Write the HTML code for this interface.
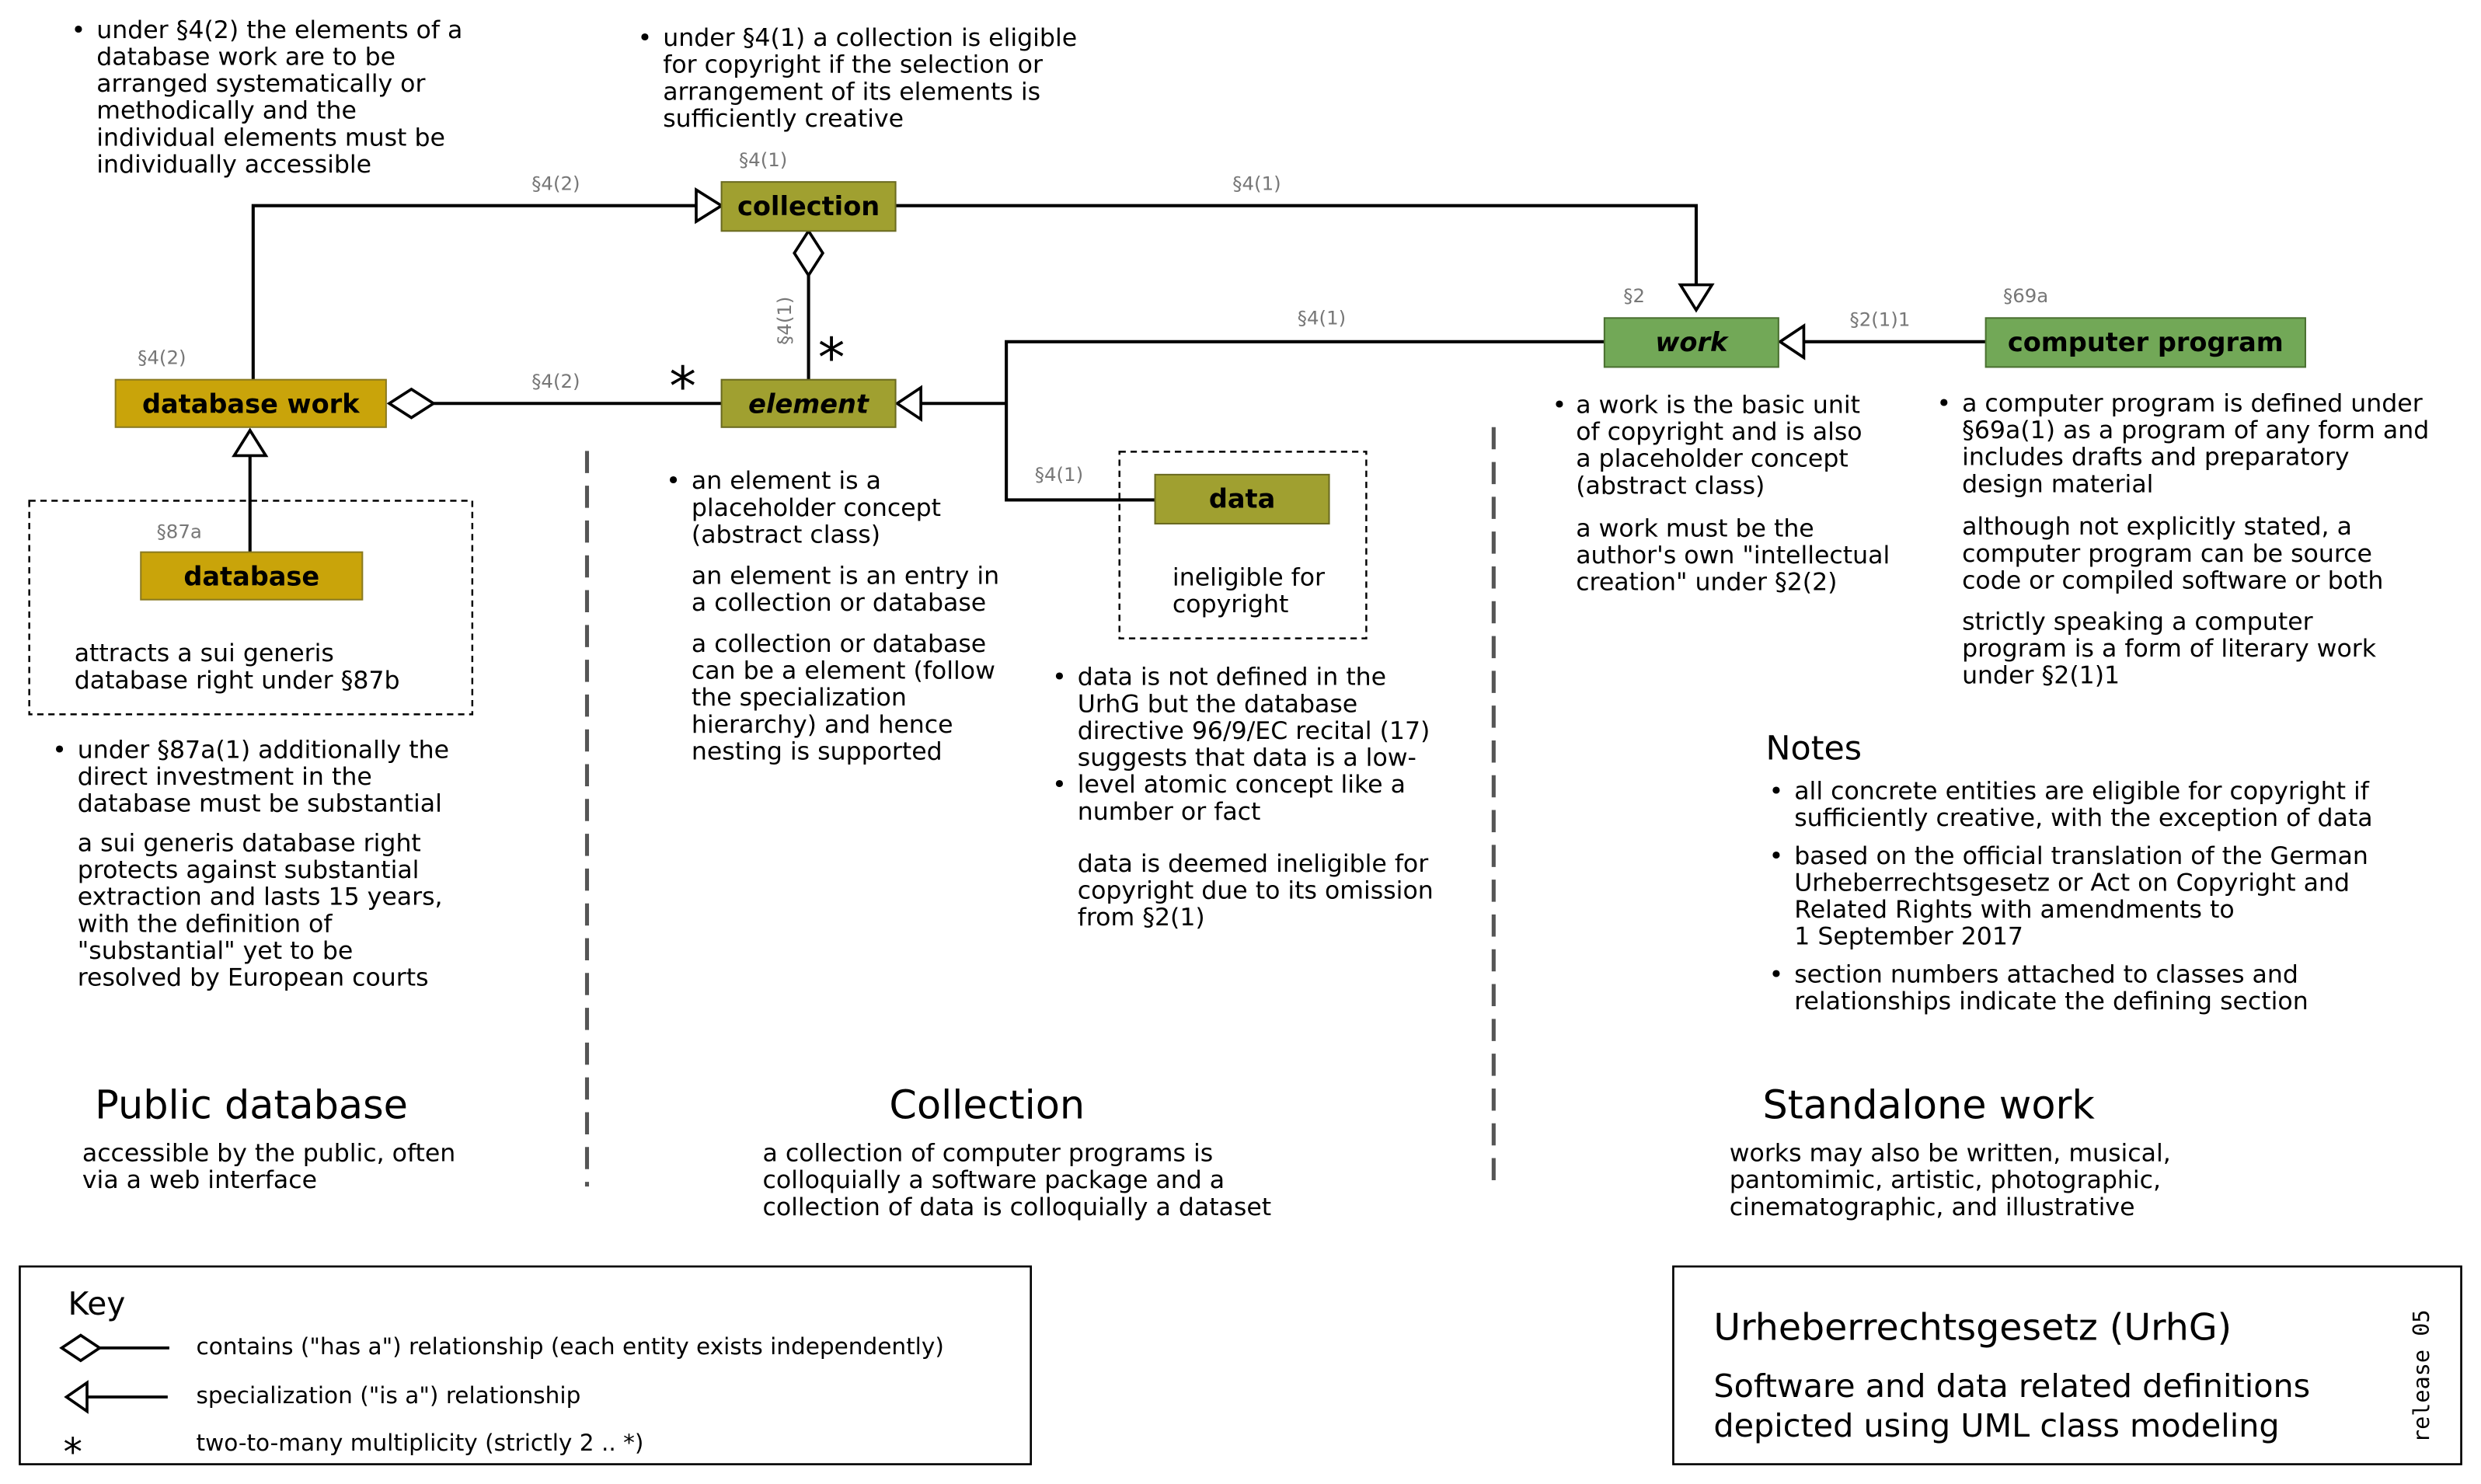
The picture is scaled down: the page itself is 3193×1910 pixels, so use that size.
<!DOCTYPE html>
<html><head><meta charset="utf-8"><style>
html,body{margin:0;padding:0;background:#fff;}
svg{display:block;}
text{font-family:"DejaVu Sans","Liberation Sans",sans-serif;fill:#000;}
.t{font-size:15.5px;}
.s{font-size:12px;fill:#777;}
.h{font-size:25px;}
.b{font-size:16.5px;font-weight:bold;}
</style></head><body>
<svg width="3193" height="1910" viewBox="0 0 1568 938" preserveAspectRatio="none" xmlns="http://www.w3.org/2000/svg">
<rect width="1568" height="938" fill="#fff"/>
<line x1="371" y1="285" x2="371" y2="750" stroke="#555" stroke-width="2.5" stroke-dasharray="14,8"/>
<line x1="944" y1="270" x2="944" y2="750" stroke="#555" stroke-width="2.5" stroke-dasharray="14,8"/>
<rect x="18.5" y="316.5" width="280" height="135" fill="none" stroke="#000" stroke-width="1.2" stroke-dasharray="4,3"/>
<rect x="707.5" y="285.5" width="156" height="118" fill="none" stroke="#000" stroke-width="1.2" stroke-dasharray="4,3"/>
<g stroke="#000" stroke-width="2" fill="none">
<polyline points="160,240 160,130 440,130"/>
<polyline points="566,130 1072,130 1072,180"/>
<line x1="511" y1="174" x2="511" y2="240"/>
<line x1="274" y1="255" x2="456" y2="255"/>
<polyline points="582,255 636,255"/>
<polyline points="1014,216 636,216 636,316 730,316"/>
<line x1="1140" y1="216" x2="1255" y2="216"/>
<line x1="158" y1="288" x2="158" y2="349"/>
</g>
<g stroke="#000" stroke-width="1.8" fill="#fff">
<polygon points="440,120 456,130 440,140"/>
<polygon points="1062,180 1082,180 1072,196"/>
<polygon points="511,146 520,160 511,174 502,160"/>
<polygon points="246,255 260,246 274,255 260,264"/>
<polygon points="567,255 582,245 582,265"/>
<polygon points="1125,216 1140,206 1140,226"/>
<polygon points="158,272 148,288 168,288"/>
</g>
<rect x="73" y="240" width="171" height="30" fill="#c9a40a" stroke="#8a7a20"/>
<text class="b" x="158.5" y="261" text-anchor="middle">database work</text>
<rect x="456" y="115" width="110" height="31" fill="#a0a030" stroke="#6a6a20"/>
<text class="b" x="511" y="136" text-anchor="middle">collection</text>
<rect x="456" y="240" width="110" height="30" fill="#a0a030" stroke="#6a6a20"/>
<text class="b" x="511" y="261" text-anchor="middle" font-style="italic">element</text>
<rect x="730" y="300" width="110" height="31" fill="#a0a030" stroke="#6a6a20"/>
<text class="b" x="785" y="321" text-anchor="middle">data</text>
<rect x="89" y="349" width="140" height="30" fill="#c9a40a" stroke="#8a7a20"/>
<text class="b" x="159" y="370" text-anchor="middle">database</text>
<rect x="1014" y="201" width="110" height="31" fill="#72a857" stroke="#4a7030"/>
<text class="b" x="1069" y="222" text-anchor="middle" font-style="italic">work</text>
<rect x="1255" y="201" width="202" height="31" fill="#72a857" stroke="#4a7030"/>
<text class="b" x="1356" y="222" text-anchor="middle">computer program</text>
<text class="s" x="336" y="120">§4(2)</text>
<text class="s" x="467" y="105">§4(1)</text>
<text class="s" x="779" y="120">§4(1)</text>
<text class="s" x="87" y="230">§4(2)</text>
<text class="s" x="336" y="245">§4(2)</text>
<text class="s" x="820" y="205">§4(1)</text>
<text class="s" x="1026" y="191">§2</text>
<text class="s" x="1169" y="206">§2(1)1</text>
<text class="s" x="1266" y="191">§69a</text>
<text class="s" x="654" y="304">§4(1)</text>
<text class="s" x="99" y="340">§87a</text>
<text class="s" transform="translate(500,218) rotate(-90)">§4(1)</text>
<text x="423" y="256" font-size="34">*</text>
<text x="517" y="238" font-size="34">*</text>
<g class="t">
<text x="45" y="24">•</text>
<text x="61" y="24">under §4(2) the elements of a</text>
<text x="61" y="41">database work are to be</text>
<text x="61" y="58">arranged systematically or</text>
<text x="61" y="75">methodically and the</text>
<text x="61" y="92">individual elements must be</text>
<text x="61" y="109">individually accessible</text>
<text x="403" y="29">•</text>
<text x="419" y="29">under §4(1) a collection is eligible</text>
<text x="419" y="46">for copyright if the selection or</text>
<text x="419" y="63">arrangement of its elements is</text>
<text x="419" y="80">sufficiently creative</text>
<text x="47" y="418">attracts a sui generis</text>
<text x="47" y="435">database right under §87b</text>
<text x="33" y="479">•</text>
<text x="49" y="479">under §87a(1) additionally the</text>
<text x="49" y="496">direct investment in the</text>
<text x="49" y="513">database must be substantial</text>
<text x="49" y="538">a sui generis database right</text>
<text x="49" y="555">protects against substantial</text>
<text x="49" y="572">extraction and lasts 15 years,</text>
<text x="49" y="589">with the definition of</text>
<text x="49" y="606">"substantial" yet to be</text>
<text x="49" y="623">resolved by European courts</text>
<text x="421" y="309">•</text>
<text x="437" y="309">an element is a</text>
<text x="437" y="326">placeholder concept</text>
<text x="437" y="343">(abstract class)</text>
<text x="437" y="369">an element is an entry in</text>
<text x="437" y="386">a collection or database</text>
<text x="437" y="412">a collection or database</text>
<text x="437" y="429">can be a element (follow</text>
<text x="437" y="446">the specialization</text>
<text x="437" y="463">hierarchy) and hence</text>
<text x="437" y="480">nesting is supported</text>
<text x="741" y="370">ineligible for</text>
<text x="741" y="387">copyright</text>
<text x="665" y="433">•</text>
<text x="681" y="433">data is not defined in the</text>
<text x="681" y="450">UrhG but the database</text>
<text x="681" y="467">directive 96/9/EC recital (17)</text>
<text x="665" y="501">•</text>
<text x="681" y="484">suggests that data is a low-</text>
<text x="681" y="501">level atomic concept like a</text>
<text x="681" y="518">number or fact</text>
<text x="681" y="551">data is deemed ineligible for</text>
<text x="681" y="568">copyright due to its omission</text>
<text x="681" y="585">from §2(1)</text>
<text x="981" y="261">•</text>
<text x="996" y="261">a work is the basic unit</text>
<text x="996" y="278">of copyright and is also</text>
<text x="996" y="295">a placeholder concept</text>
<text x="996" y="312">(abstract class)</text>
<text x="996" y="339">a work must be the</text>
<text x="996" y="356">author's own "intellectual</text>
<text x="996" y="373">creation" under §2(2)</text>
<text x="1224" y="260">•</text>
<text x="1240" y="260">a computer program is defined under</text>
<text x="1240" y="277">§69a(1) as a program of any form and</text>
<text x="1240" y="294">includes drafts and preparatory</text>
<text x="1240" y="311">design material</text>
<text x="1240" y="338">although not explicitly stated, a</text>
<text x="1240" y="355">computer program can be source</text>
<text x="1240" y="372">code or compiled software or both</text>
<text x="1240" y="398">strictly speaking a computer</text>
<text x="1240" y="415">program is a form of literary work</text>
<text x="1240" y="432">under §2(1)1</text>
<text x="1118" y="505">•</text>
<text x="1134" y="505">all concrete entities are eligible for copyright if</text>
<text x="1134" y="522">sufficiently creative, with the exception of data</text>
<text x="1118" y="546">•</text>
<text x="1134" y="546">based on the official translation of the German</text>
<text x="1134" y="563">Urheberrechtsgesetz or Act on Copyright and</text>
<text x="1134" y="580">Related Rights with amendments to</text>
<text x="1134" y="597">1 September 2017</text>
<text x="1118" y="621">•</text>
<text x="1134" y="621">section numbers attached to classes and</text>
<text x="1134" y="638">relationships indicate the defining section</text>
<text x="52" y="734">accessible by the public, often</text>
<text x="52" y="751">via a web interface</text>
<text x="482" y="734">a collection of computer programs is</text>
<text x="482" y="751">colloquially a software package and a</text>
<text x="482" y="768">collection of data is colloquially a dataset</text>
<text x="1093" y="734">works may also be written, musical,</text>
<text x="1093" y="751">pantomimic, artistic, photographic,</text>
<text x="1093" y="768">cinematographic, and illustrative</text>
</g>
<text x="1116" y="480" font-size="21">Notes</text>
<text class="h" x="60" y="707">Public database</text>
<text class="h" x="562" y="707">Collection</text>
<text class="h" x="1114" y="707">Standalone work</text>
<rect x="12.5" y="800.5" width="639" height="125" fill="none" stroke="#000" stroke-width="1.3"/>
<text x="43" y="831" font-size="20">Key</text>
<g stroke="#000" stroke-width="1.8" fill="#fff">
<polygon points="39,852 51,844 63,852 51,860"/>
<line x1="63" y1="852" x2="107" y2="852"/>
<polygon points="42,883 55,874 55,892"/>
<line x1="55" y1="883" x2="106" y2="883"/>
</g>
<text x="40" y="926" font-size="24">*</text>
<g font-size="14.5">
<text x="124" y="856">contains ("has a") relationship (each entity exists independently)</text>
<text x="124" y="887">specialization ("is a") relationship</text>
<text x="124" y="917">two-to-many multiplicity (strictly 2 .. *)</text>
</g>
<rect x="1057.5" y="800.5" width="498" height="125" fill="none" stroke="#000" stroke-width="1.3"/>
<text x="1083" y="847" font-size="23.3">Urheberrechtsgesetz (UrhG)</text>
<text x="1083" y="883" font-size="20.3">Software and data related definitions</text>
<text x="1083" y="908" font-size="20.3">depicted using UML class modeling</text>
<text transform="translate(1535,912) rotate(-90)" style="font-size:14px;font-family:'DejaVu Sans Mono','Liberation Mono',monospace">release 05</text>
</svg>
</body></html>
